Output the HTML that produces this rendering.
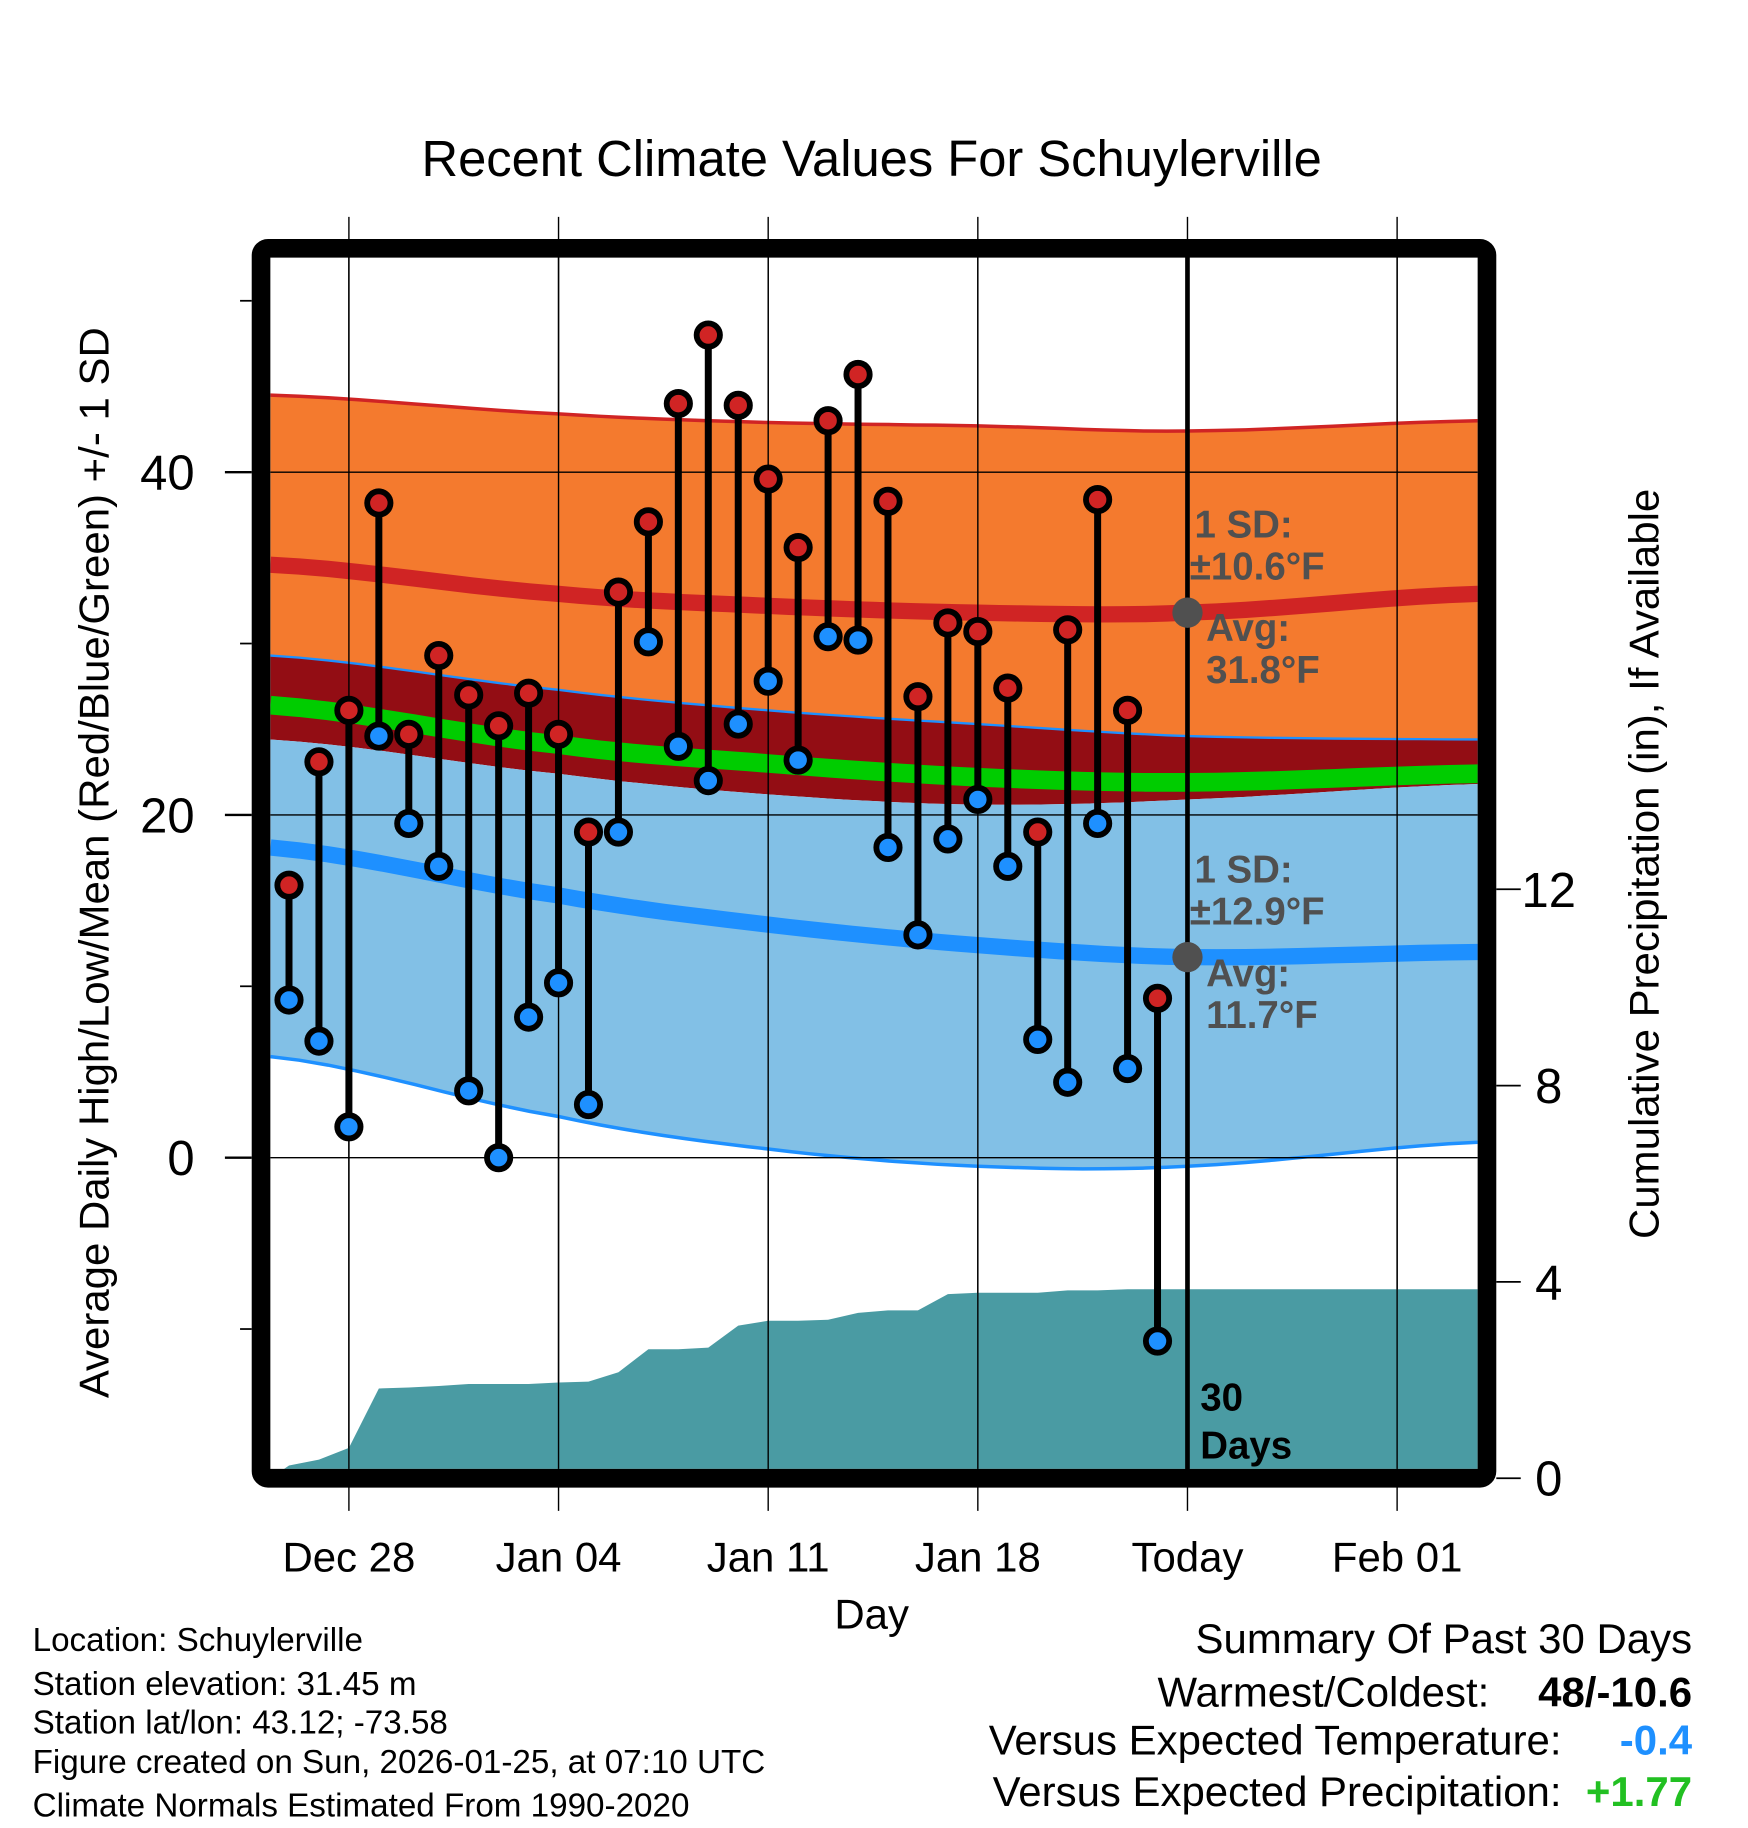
<!DOCTYPE html>
<html><head><meta charset="utf-8">
<style>
html,body{margin:0;padding:0;background:#fff;}
svg{display:block;font-family:"Liberation Sans",Arial,sans-serif;}
</style></head>
<body>
<svg id="chart" width="1748" height="1828" viewBox="0 0 1500 1568" preserveAspectRatio="none" xmlns="http://www.w3.org/2000/svg">
<defs><clipPath id="plotclip"><rect x="232" y="220" width="1036" height="1040"/></clipPath></defs>
<text x="748" y="151" font-size="43.5" text-anchor="middle">Recent Climate Values For Schuylerville</text>
<g id="gridlayer"></g>
<g id="bands" clip-path="url(#plotclip)"></g>
<g id="marks"></g>
<rect x="224" y="213" width="1052" height="1055" fill="none" stroke="#000" stroke-width="16" rx="6"/>
<g id="axes"></g>
<text transform="translate(93,740) rotate(-90)" font-size="36" text-anchor="middle">Average Daily High/Low/Mean (Red/Blue/Green) +/- 1 SD</text>
<text transform="translate(1423,741) rotate(-90)" font-size="36" text-anchor="middle">Cumulative Precipitation (in), If Available</text>
<text x="748" y="1397" font-size="36" text-anchor="middle">Day</text>
<g font-size="28.5">
<text x="28" y="1416">Location: Schuylerville</text>
<text x="28" y="1454">Station elevation: 31.45 m</text>
<text x="28" y="1487">Station lat/lon: 43.12; -73.58</text>
<text x="28" y="1521">Figure created on Sun, 2026-01-25, at 07:10 UTC</text>
<text x="28" y="1558">Climate Normals Estimated From 1990-2020</text>
</g>
<g font-size="36">
<text x="1452" y="1418" text-anchor="end">Summary Of Past 30 Days</text>
<text x="1278" y="1464" text-anchor="end">Warmest/Coldest:</text>
<text x="1452" y="1464" text-anchor="end" font-weight="bold">48/-10.6</text>
<text x="1340" y="1505" text-anchor="end">Versus Expected Temperature:</text>
<text x="1452" y="1505" text-anchor="end" font-weight="bold" fill="#1e90ff">-0.4</text>
<text x="1340" y="1549" text-anchor="end">Versus Expected Precipitation:</text>
<text x="1452" y="1549" text-anchor="end" font-weight="bold" fill="#22c022">+1.77</text>
</g>
</svg>
<script>
const days = [0,1,2,3,4,5,6,7,8,9,10,11,12,13,14,15,16,17,18,19,20,21,22,23,24,25,26,27,28,29];
const highs = [15.9,23.1,26.1,38.2,24.7,29.3,27.0,25.2,27.1,24.7,19.0,33.0,37.1,44.0,48.0,43.9,39.6,35.6,43.0,45.7,38.3,26.9,31.2,30.7,27.4,19.0,30.8,38.4,26.1,9.3];
const lows = [9.2,6.8,1.8,24.6,19.5,17.0,3.9,0.0,8.2,10.2,3.1,19.0,30.1,24.0,22.0,25.3,27.8,23.2,30.4,30.2,18.1,13.0,18.6,20.9,17.0,6.9,4.4,19.5,5.2,-10.7];
const precipDays = [-0.62,0,1,2,3,4,5,6,7,8,9,10,11,12,13,14,15,16,17,18,19,20,21,22,23,24,25,26,27,28,29,39.7];
const precip = [0,0.26,0.38,0.62,1.83,1.85,1.88,1.92,1.92,1.92,1.95,1.97,2.16,2.63,2.63,2.66,3.11,3.21,3.21,3.23,3.37,3.42,3.42,3.75,3.78,3.78,3.78,3.83,3.83,3.85,3.85,3.85];
const normDays = [-0.62,9,16,23,30,39.7];
const highPlusSD = [44.5,43.4,42.9,42.7,42.4,43.0];
const highMean = [34.6,32.9,32.2,31.8,31.8,32.9];
const highMinusSD = [29.3,27.3,26.1,25.3,24.6,24.4];
const meanNorm = [26.4,24.1,23.0,22.2,21.9,22.4];
const lowPlusSD = [24.4,22.4,21.2,20.6,20.9,21.8];
const lowMean = [18.1,15.3,13.6,12.4,11.7,12.0];
const lowMinusSD = [5.9,2.4,0.5,-0.5,-0.5,0.9];
const xTickDays = [2,9,16,23,30,37];
const xTickLabels = ["Dec 28","Jan 04","Jan 11","Jan 18","Today","Feb 01"];
const yTicks = [0,20,40];
const yMinor = [-10,10,30,50];
const y2Ticks = [0,4,8,12];

const NS="http://www.w3.org/2000/svg";
function xd(d){return 248+25.7*d;}
function yT(v){return 993-14.7*v;}
function yP(p){return 1268-42.1*p;}
function mk(tag,attrs,parent){const e=document.createElementNS(NS,tag);for(const k in attrs)e.setAttribute(k,attrs[k]);parent.appendChild(e);return e;}
function pts(ds,vs,yf){return ds.map((d,i)=>xd(d).toFixed(1)+","+yf(vs[i]).toFixed(1));}
function dense(ds,vs){const od=[],ov=[];for(let i=0;i<ds.length-1;i++){const p0=vs[Math.max(i-1,0)],p1=vs[i],p2=vs[i+1],p3=vs[Math.min(i+2,vs.length-1)];for(let s=0;s<10;s++){const t=s/10;const v=0.5*((2*p1)+(-p0+p2)*t+(2*p0-5*p1+4*p2-p3)*t*t+(-p0+3*p1-3*p2+p3)*t*t*t);od.push(ds[i]+(ds[i+1]-ds[i])*t);ov.push(v);}}od.push(ds[ds.length-1]);ov.push(vs[vs.length-1]);return [od,ov];}

const bands=document.getElementById('bands');
const grid=document.getElementById('gridlayer');
const marks=document.getElementById('marks');
const axes=document.getElementById('axes');

function band(top,bot,fill,name){const [d1,v1]=dense(normDays,top);const [d2,v2]=dense(normDays,bot);
 const p=pts(d1,v1,yT).concat(pts(d2,v2,yT).reverse());
 const e=mk('polygon',{points:p.join(' '),fill:fill},bands);
 
 }
function line(vals,color,w,name){const [d,v]=dense(normDays,vals);
 const e=mk('polyline',{points:pts(d,v,yT).join(' '),fill:'none',stroke:color,'stroke-width':w},bands);
 
 }

band(highPlusSD,highMinusSD,'#f47a2e','high-sd-band');
band(highMinusSD,lowPlusSD,'#930d14','overlap-band');
band(lowPlusSD,lowMinusSD,'#82c0e6','low-sd-band');
line(highPlusSD,'#d02424',3,'high-upper-line');
line(highMinusSD,'#1e90ff',2,'high-lower-line');
line(lowMinusSD,'#1e90ff',3,'low-lower-line');
line(meanNorm,'#00cc00',16,'mean-normal-line');
line(highMean,'#d02424',14,'high-normal-line');
line(lowMean,'#1e90ff',14,'low-normal-line');

{const p=pts(precipDays,precip,yP);p.push(xd(precipDays[precipDays.length-1]).toFixed(1)+","+yP(0));p.push(xd(precipDays[0]).toFixed(1)+","+yP(0));
 const e=mk('polygon',{points:p.join(' '),fill:'#4a9ba3'},bands);
 
 }

yTicks.forEach(v=>{const e=mk('line',{x1:232,x2:1268,y1:yT(v),y2:yT(v),stroke:'#000','stroke-width':1.2},marks);
 
 });
xTickDays.forEach((d,i)=>{const e=mk('line',{x1:xd(d),x2:xd(d),y1:186,y2:1296,stroke:'#000','stroke-width':1.2},grid);
 
 
 const g=mk('line',{x1:xd(d),x2:xd(d),y1:220,y2:1260,stroke:'#000','stroke-width':1.2},marks);
 
 
 const t=mk('text',{x:xd(d),y:1348,'font-size':36,'text-anchor':'middle'},axes);
 t.textContent=xTickLabels[i];
 
 });
{const e=mk('line',{x1:xd(30),x2:xd(30),y1:220,y2:1262,stroke:'#000','stroke-width':4},marks);
 
 }

days.forEach((d,i)=>{const x=xd(d);
 const s=mk('line',{x1:x,x2:x,y1:yT(highs[i]),y2:yT(lows[i]),stroke:'#000','stroke-width':6},marks);
 
 
 const l=mk('circle',{cx:x,cy:yT(lows[i]),r:10,fill:'#1e90ff',stroke:'#000','stroke-width':5},marks);
 
 
 const h=mk('circle',{cx:x,cy:yT(highs[i]),r:10,fill:'#d02424',stroke:'#000','stroke-width':5},marks);
 
 });

function ann(txt,x,y,name,fill,size){const t=mk('text',{x:x,y:y,'font-size':size||33,'font-weight':'bold',fill:fill||'#505050'},marks);t.textContent=txt;
 
 return t;}
function dot(v,name){const c=mk('circle',{cx:xd(30),cy:yT(v),r:13,fill:'#505050'},marks);
 
 }
dot(highMean[4],'high-avg-dot');dot(lowMean[4],'low-avg-dot');
ann('1 SD:',1025,461,'high-sd-label');ann('±10.6°F',1021,497,'high-sd-value');
ann('Avg:',1035,550,'high-avg-label');ann('31.8°F',1035,586,'high-avg-value');
ann('1 SD:',1025,757,'low-sd-label');ann('±12.9°F',1021,793,'low-sd-value');
ann('Avg:',1035,846,'low-avg-label');ann('11.7°F',1035,882,'low-avg-value');
ann('30',1030,1210,'days-count','#000',33);ann('Days',1030,1251,'days-label','#000',33);

yTicks.forEach(v=>{const e=mk('line',{x1:193,x2:216,y1:yT(v),y2:yT(v),stroke:'#000','stroke-width':2},axes);
 
 
 const t=mk('text',{x:167,y:yT(v)+15,'font-size':42,'text-anchor':'end'},axes);t.textContent=v;
 
 });
yMinor.forEach(v=>{const e=mk('line',{x1:206,x2:216,y1:yT(v),y2:yT(v),stroke:'#000','stroke-width':1.5},axes);
 
 });
y2Ticks.forEach(v=>{const e=mk('line',{x1:1284,x2:1305,y1:yP(v),y2:yP(v),stroke:'#000','stroke-width':1.5},axes);
 
 
 const t=mk('text',{x:1329,y:yP(v)+15,'font-size':42,'text-anchor':'middle'},axes);t.textContent=v;
 
 });
</script>
</body></html>
